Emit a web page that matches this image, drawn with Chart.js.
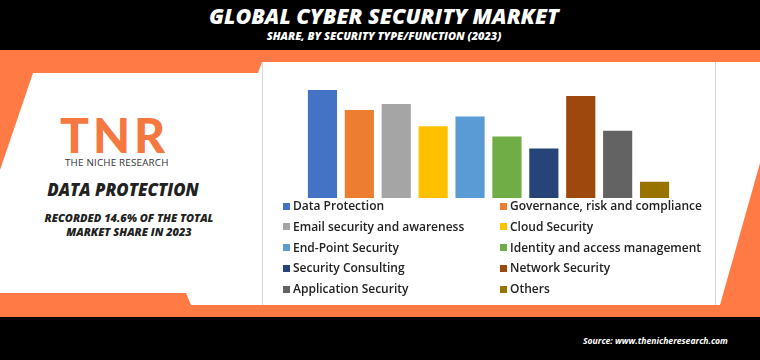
<!DOCTYPE html>
<html>
<head>
<meta charset="utf-8">
<script src="https://cdn.jsdelivr.net/npm/chart.js@4"></script>
<style>
  body { margin: 0; width: 760px; height: 360px; overflow: hidden; background: #ff7a45; position: relative; font-family: "Open Sans", sans-serif; }
  .abs { position: absolute; }
  #header { left: 0; top: 0; width: 760px; height: 50px; background: #000; }
  #footer { left: 0; top: 317px; width: 760px; height: 43px; background: #000; }
  #panel { left: 0; top: 0; width: 760px; height: 360px; background: #fff;
    clip-path: polygon(33px 73px, 258px 73px, 262px 62px, 760px 62px, 760px 163px, 720px 305px, 191px 305px, 186px 293px, 0 293px, 0 170px); }
  #box { left: 262px; top: 62px; width: 452px; height: 243px; border-left: 1px solid #d6d6d6; border-right: 1px solid #d6d6d6; }
  .hd { color: #fff; font-style: italic; font-weight: 800; width: 768px; text-align: center; left: 0; white-space: nowrap; }
  #title { top: 2px; font-size: 21.5px; line-height: 28px; }
  #subtitle { top: 28px; font-size: 11px; line-height: 15px; }
  #source { left: 583px; top: 334px; color: #fff; font-style: italic; font-weight: 700; font-size: 8.6px; line-height: 14px; white-space: nowrap; }
  #logo { left: 60px; top: 106px; font-family: "Lato", sans-serif; font-weight: 900; font-size: 48px; line-height: 58px; color: #f4783f; letter-spacing: 4px; }
  #niche { left: 65px; top: 155px; font-size: 9.8px; line-height: 15px; color: #333; letter-spacing: 0.2px; white-space: nowrap; }
  #dp { left: 0; width: 246px; text-align: center; top: 179px; font-size: 16.8px; line-height: 22px; font-weight: 800; font-style: italic; color: #222; white-space: nowrap; }
  #rec { left: 0; width: 258px; text-align: center; top: 211px; font-size: 11px; line-height: 14px; font-weight: 800; font-style: italic; color: #222; white-space: nowrap; }
  #chartWrap { left: 262px; top: 62px; width: 453px; height: 140px; }
  #legend { left: 0; top: 0; }
  .item { position: absolute; white-space: nowrap; font-family: "Open Sans", sans-serif; font-weight: 600; font-size: 12px; line-height: 16px; color: #222; }
  .item i { position: absolute; left: -10px; top: 4.5px; width: 7px; height: 7px; }
</style>
</head>
<body>
<div id="header" class="abs"></div>
<div id="footer" class="abs"></div>
<div id="panel" class="abs"></div>
<div id="box" class="abs"></div>
<div id="title" class="abs hd">GLOBAL CYBER SECURITY MARKET</div>
<div id="subtitle" class="abs hd">SHARE, BY SECURITY TYPE/FUNCTION (2023)</div>
<div id="logo" class="abs">TNR</div>
<div id="niche" class="abs">THE NICHE RESEARCH</div>
<div id="dp" class="abs">DATA PROTECTION</div>
<div id="rec" class="abs">RECORDED 14.6% OF THE TOTAL<br>MARKET SHARE IN 2023</div>
<div id="chartWrap" class="abs"><canvas id="chart"></canvas></div>
<div id="legend" class="abs"></div>
<div id="source" class="abs">Source: www.thenicheresearch.com</div>
<script>
const categories = [
  'Data Protection',
  'Governance, risk and compliance',
  'Email security and awareness',
  'Cloud Security',
  'End-Point Security',
  'Identity and access management',
  'Security Consulting',
  'Network Security',
  'Application Security',
  'Others'
];
const shares = [14.6, 11.9, 12.7, 9.7, 11.0, 8.3, 6.7, 13.8, 9.1, 2.2];
const colors = ['#4472c4', '#ed7d31', '#a5a5a5', '#ffc000', '#5b9bd5', '#70ad47', '#264478', '#9e480e', '#636363', '#997300'];

const chart = new Chart(document.getElementById('chart'), {
  type: 'bar',
  data: {
    labels: categories,
    datasets: [{
      label: 'Share (%)',
      data: shares,
      backgroundColor: colors,
      borderWidth: 0,
      categoryPercentage: 1,
      barPercentage: 0.79
    }]
  },
  options: {
    responsive: true,
    maintainAspectRatio: false,
    animation: false,
    layout: { padding: { left: 42, right: 42, top: 17.6, bottom: 4 } },
    plugins: { legend: { display: false }, tooltip: { enabled: false } },
    scales: {
      x: { display: false },
      y: { display: false, min: 0, max: 16 }
    }
  }
});

// two-column legend built from the chart's own labels/colours
const legend = document.getElementById('legend');
chart.data.labels.forEach((label, i) => {
  const el = document.createElement('div');
  el.className = 'item';
  el.style.left = (i % 2 === 0 ? 293 : 510) + 'px';
  el.style.top = (198 + Math.floor(i / 2) * 20.8) + 'px';
  const sw = document.createElement('i');
  sw.style.background = chart.data.datasets[0].backgroundColor[i];
  el.appendChild(sw);
  el.appendChild(document.createTextNode(label));
  legend.appendChild(el);
});
</script>
</body>
</html>
